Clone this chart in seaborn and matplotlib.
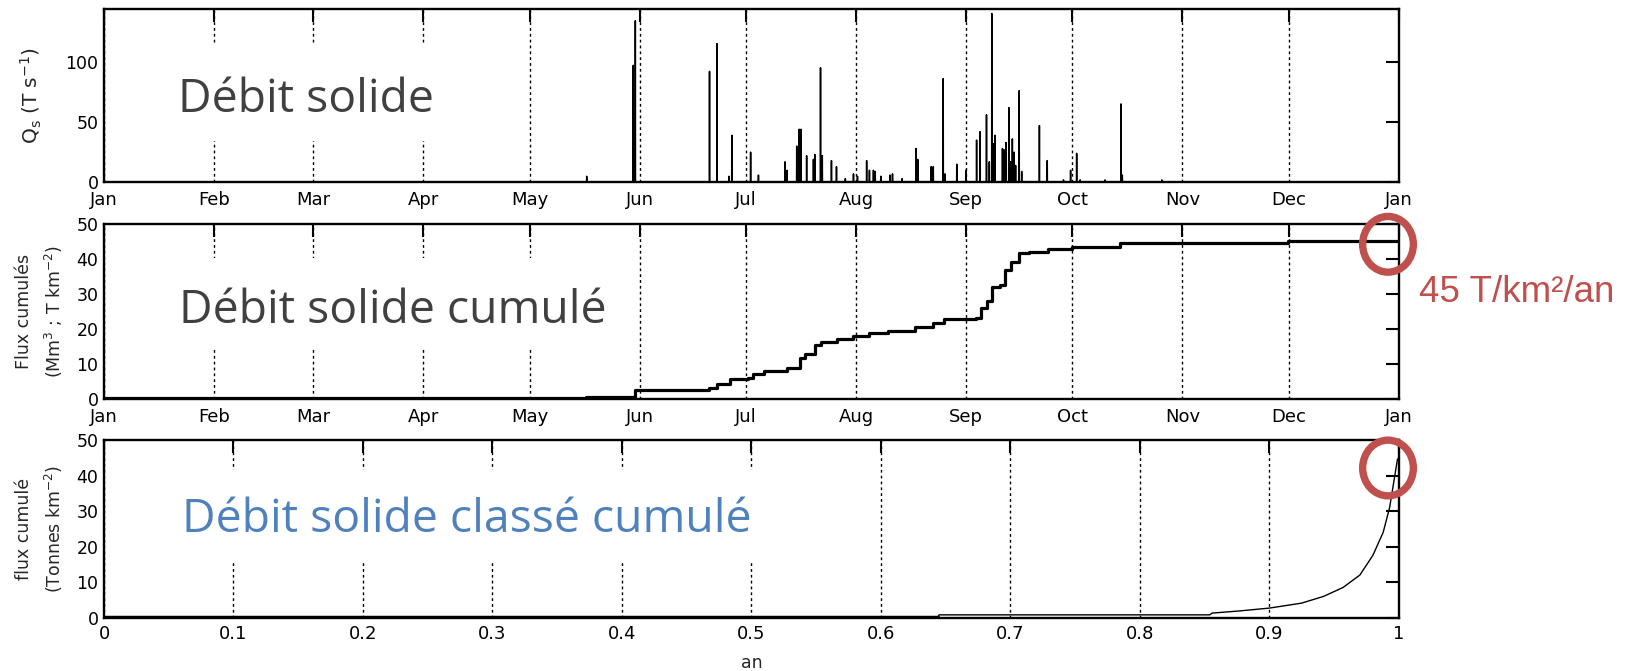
import numpy as np
import pandas as pd
import seaborn as sns
import matplotlib
matplotlib.use("Agg")
import matplotlib.pyplot as plt
from matplotlib.patches import Rectangle, Ellipse

# ---------------- data ----------------
month_labels = ["Jan", "Feb", "Mar", "Apr", "May", "Jun", "Jul", "Aug",
                "Sep", "Oct", "Nov", "Dec", "Jan"]
month_start_days = [0, 31, 59, 90, 120, 151, 181, 212, 243, 273, 304, 334, 365]

# solid discharge spikes (day of year, T/s)
qs_days = [136.1, 149.2, 149.8, 170.7, 172.8, 176.2, 177.0, 182.3, 184.5,
           192.0, 192.6, 195.3, 196.0, 196.5, 198.1, 200.0, 200.4, 202.0,
           202.5, 205.1, 206.5, 209.0, 211.3, 212.4, 215.0, 215.8, 216.9,
           217.4, 219.0, 221.6, 222.3, 225.0, 228.9, 229.4, 233.2, 233.8,
           236.6, 237.1, 240.4, 243.0, 246.0, 247.0, 248.8, 249.6, 250.3,
           250.7, 251.2, 253.3, 253.7, 254.3, 255.1, 255.6, 256.1, 256.6,
           257.0, 258.0, 258.7, 263.7, 265.9, 270.5, 272.5, 274.2, 275.2,
           282.2, 286.7, 287.1, 298.2]
qs_values = [5, 97, 134, 92, 115, 5, 39, 25, 6,
             17, 10, 30, 44, 44, 22, 19, 23, 95,
             22, 18, 13, 3, 7, 5, 18, 10, 10,
             9, 5, 6, 7, 3, 28, 19, 13, 13,
             86, 7, 15, 10, 35, 42, 56, 17, 140,
             32, 39, 28, 27, 33, 62, 17, 36, 25,
             14, 76, 9, 47, 18, 2, 10, 24, 2,
             2, 65, 6, 2]

# cumulated flux (day of year, Mm3 ; T km-2)
cum_days = [0, 135.8, 149.8, 170.5, 172.7, 176.4, 181.5, 183.0, 186.0,
            192.6, 196.2, 197.7, 200.5, 202.2, 206.7, 211.2, 215.8, 221.0,
            228.5, 233.8, 236.8, 245.8, 247.3, 249.0, 250.3, 252.6, 254.1,
            255.6, 257.9, 260.9, 266.1, 272.9, 286.4, 333.7, 365]
cum_values = [0.2, 0.6, 2.5, 3.2, 4.3, 5.6, 5.9, 7.1, 8.0,
              8.8, 11.6, 13.0, 15.5, 16.2, 17.1, 18.0, 18.9, 19.5,
              20.7, 21.8, 22.8, 23.1, 25.9, 28.0, 32.1, 32.6, 36.9,
              39.2, 41.6, 42.1, 42.8, 43.3, 44.5, 45.1, 45.1]

# sorted cumulated flux (fraction of year, Tonnes km-2)
class_frac = [0, 0.644, 0.645, 0.854, 0.856, 0.877, 0.900, 0.925, 0.942,
              0.957, 0.970, 0.980, 0.988, 0.993, 0.997, 0.999, 1.0]
class_values = [0.2, 0.2, 0.8, 0.8, 1.3, 1.9, 2.7, 4.1, 6.0,
                8.5, 12.0, 17.5, 24.0, 31.0, 40.0, 44.5, 45.0]

frac_ticks = [0, 0.1, 0.2, 0.3, 0.4, 0.5, 0.6, 0.7, 0.8, 0.9, 1.0]
frac_labels = ["0", "0.1", "0.2", "0.3", "0.4", "0.5", "0.6", "0.7", "0.8", "0.9", "1"]

# ---------------- build frames ----------------
hours = np.arange(365 * 24) / 24.0
qs = np.zeros_like(hours)
idx = np.round(np.array(qs_days) * 24).astype(int)
np.maximum.at(qs, idx, np.array(qs_values, dtype=float))
df_qs = pd.DataFrame({"day": hours, "qs": qs})
df_cum = pd.DataFrame({"day": cum_days, "flux": cum_values})
df_cls = pd.DataFrame({"frac": class_frac, "flux": class_values})

# ---------------- style ----------------
sns.set_theme(style="white")
plt.rcParams["font.family"] = ["DejaVu Sans"]
plt.rcParams["axes.edgecolor"] = "black"
plt.rcParams["axes.linewidth"] = 1.7

W, H = 1636, 671
fig = plt.figure(figsize=(W / 100, H / 100), dpi=100)

def px(x):
    return x / W

def py(y):
    return 1 - y / H

L, R = 104, 1398.7
def make_ax(top, bottom):
    return fig.add_axes([px(L), py(bottom), px(R - L), (bottom - top) / H])

ax1 = make_ax(9.3, 182.3)
ax2 = make_ax(224, 399)
ax3 = make_ax(440, 617.7)

FS = 12.5
grid_kw = dict(color="black", linestyle=(0, (2, 2.2)), linewidth=1.0)

for ax in (ax1, ax2, ax3):
    ax.set_facecolor("white")
    ax.tick_params(direction="in", length=9.4, width=1.5, top=True, right=True,
                   labelsize=FS, colors="black", pad=4)
    ax.set_axisbelow(True)
    ax.grid(axis="x", **grid_kw)
    ax.grid(axis="y", visible=False)
    for s in ax.spines.values():
        s.set_color("black")
        s.set_linewidth(1.7)

# top panel
sns.lineplot(data=df_qs, x="day", y="qs", ax=ax1, color="black", linewidth=1.1,
             estimator=None, zorder=2)
ax1.set_xlim(0, 365)
ax1.set_ylim(0, 143.5)
ax1.set_yticks([0, 50, 100])
ax1.set_xticks(month_start_days)
ax1.set_xticklabels(month_labels)
ax1.set_xlabel("")
ax1.set_ylabel(r"Q$_\mathregular{s}$ (T s$^\mathregular{-1}$)", fontsize=14.5)

# middle panel
sns.lineplot(data=df_cum, x="day", y="flux", ax=ax2, color="black", linewidth=2.3,
             estimator=None, drawstyle="steps-post", zorder=2)
ax2.set_xlim(0, 365)
ax2.set_ylim(0, 50)
ax2.set_yticks([0, 10, 20, 30, 40, 50])
ax2.set_xticks(month_start_days)
ax2.set_xticklabels(month_labels)
ax2.set_xlabel("")
ax2.set_ylabel("Flux cumulés\n" + r"(Mm$^\mathregular{3}$ ; T km$^\mathregular{-2}$)",
               fontsize=FS, linespacing=1.6)

# bottom panel
sns.lineplot(data=df_cls, x="frac", y="flux", ax=ax3, color="black", linewidth=1.0,
             estimator=None, zorder=2)
ax3.plot([0, 0.644], [0.2, 0.2], color="black", linewidth=2.5, zorder=2)
ax3.set_xlim(0, 1)
ax3.set_ylim(0, 50)
ax3.set_yticks([0, 10, 20, 30, 40, 50])
ax3.set_xticks(frac_ticks)
ax3.set_xticklabels(frac_labels)
ax3.set_xlabel("an", fontsize=FS, labelpad=8)
ax3.set_ylabel("flux cumulé\n" + r"(Tonnes km$^\mathregular{-2}$)", fontsize=FS,
               linespacing=1.6)

for ax in (ax1, ax2):
    ax.tick_params(axis="x", pad=6.6, labelsize=13)
ax3.tick_params(axis="x", pad=5, labelsize=13)

for ax, xc in ((ax1, 31), (ax2, 40), (ax3, 40)):
    ax.yaxis.label.set_verticalalignment("center")
    ax.yaxis.set_label_coords((xc - L) / (R - L), 0.5)

# white boxes behind the overlay texts
boxes = [(ax1, 175, 43, 436, 141), (ax2, 176, 258, 612, 350), (ax3, 178, 470, 755, 562)]
for ax, x0, y0, x1, y1 in boxes:
    ax.add_patch(Rectangle((px(x0), py(y1)), px(x1 - x0), (y1 - y0) / H,
                           transform=fig.transFigure, facecolor="white",
                           edgecolor="none", zorder=1.5))

# overlay texts
OFONT = "Open Sans"
OSIZE = 33.3
fig.text(px(178), py(111.5), "Débit solide", family=OFONT, fontsize=OSIZE,
         color="#404040", ha="left", va="baseline")
fig.text(px(179), py(323), "Débit solide cumulé", family=OFONT, fontsize=OSIZE,
         color="#404040", ha="left", va="baseline")
fig.text(px(182), py(532.5), "Débit solide classé cumulé", family=OFONT, fontsize=OSIZE,
         color="#4F81BD", ha="left", va="baseline")

# red annotations
red = "#C0504D"
for cx, cy in ((1388, 244.3), (1388, 468)):
    fig.add_artist(Ellipse((px(cx), py(cy)), 50.7 / W, 55.7 / H, transform=fig.transFigure,
                           fill=False, edgecolor=red, linewidth=5.3, zorder=10))
fig.text(px(1419), py(302.5), "45 T/km²/an", family="Liberation Sans", fontsize=26.5,
         color=red, ha="left", va="baseline")

fig.savefig("out.png", dpi=100)
